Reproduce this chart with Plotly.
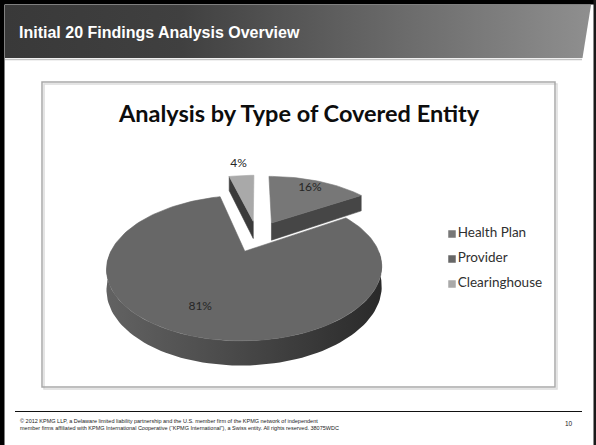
import numpy as np
import plotly.graph_objects as go

# ---- chart data ----
categories = ["Health Plan", "Provider", "Clearinghouse"]
shares = [16, 81, 4]                     # percent of findings by covered-entity type
top_colors = ["#777777", "#676767", "#a9a9a9"]
cut_colors = ["#464646", "#3a3a3a", "#3b3b3b"]
wall_scale = [[0.0, "#626262"], [0.45, "#4a4a4a"], [1.0, "#2a2a2a"]]

slide_title = "Initial 20 Findings Analysis Overview"
chart_title = "Analysis by Type of Covered Entity"
footer_lines = [
    "\u00a9 2012 KPMG LLP, a Delaware limited liability partnership and the U.S. member firm of the KPMG network of independent",
    "member firms affiliated with KPMG International Cooperative (\u201cKPMG International\u201d), a Swiss entity. All rights reserved. 38075WDC",
]
page_number = "10"

# ---- canvas (axes are mapped 1:1 onto pixels) ----
W, H = 596, 445

# ---- 3-D pie projection ----
CX, CY = 257.0, 236.0     # screen position of pie centre
RX, RY = 127.0, 62.0      # radius along x, foreshortened radius along depth
DEPTH = 18.0              # thickness of the pie
PERSP = 0.22              # perspective strength
EXPLODE = 0.25            # radial explosion of every slice (in radii)


def project(X, V, z=0.0):
    """X: right, V: toward viewer (radius units), z: 0 = top face, 1 = bottom."""
    s = 1.0 / (1.0 - PERSP * V)
    return CX + RX * X * s, CY + (RY * V + DEPTH * z) * s


def slice_pt(theta, r, off, z=0.0):
    return project(r * np.sin(theta) + off[0], -r * np.cos(theta) + off[1], z)


def arc(a0, a1, off, z=0.0, r=1.0):
    n = max(4, int(abs(a1 - a0) / np.radians(2)) + 2)
    th = np.linspace(a0, a1, n)
    xs, ys = slice_pt(th, r, off, z)
    return list(xs), list(ys)


total = float(sum(shares))
bounds = np.concatenate([[0.0], np.cumsum(shares) / total]) * 2 * np.pi

slices = []
for i, v in enumerate(shares):
    a0, a1 = bounds[i], bounds[i + 1]
    mid = 0.5 * (a0 + a1)
    off = (EXPLODE * np.sin(mid), -EXPLODE * np.cos(mid))
    slices.append(dict(i=i, a0=a0, a1=a1, mid=mid, off=off))

# paint from back to front
slices.sort(key=lambda s: -np.cos(s["mid"]))

fig = go.Figure()


def poly(xs, ys, color=None, gradient=None):
    kw = dict(x=xs + [xs[0]], y=ys + [ys[0]], mode="lines", fill="toself",
              line=dict(width=0.6, color=color if color else "rgba(0,0,0,0)"),
              hoverinfo="skip", showlegend=False)
    if gradient is not None:
        kw["fillgradient"] = dict(type="horizontal", colorscale=gradient)
        kw["line"] = dict(width=0, color="rgba(0,0,0,0)")
    else:
        kw["fillcolor"] = color
    fig.add_trace(go.Scatter(**kw))


# header band with gradient
fig.add_trace(go.Scatter(
    x=[5, 591, 582.5, 5, 5], y=[5, 5, 58, 58, 5], mode="lines", fill="toself",
    fillgradient=dict(type="horizontal",
                      colorscale=[[0, "#393939"], [0.3, "#404040"], [1, "#8f8f8f"]]),
    line=dict(width=0, color="rgba(0,0,0,0)"), hoverinfo="skip", showlegend=False))

for s in slices:
    i, a0, a1, off = s["i"], s["a0"], s["a1"], s["off"]
    ax, ay = slice_pt(0.0, 0.0, off)
    axb, ayb = slice_pt(0.0, 0.0, off, 1.0)

    # outer curved wall (front half only)
    w0, w1 = max(a0, np.pi / 2), min(a1, 3 * np.pi / 2)
    if w1 > w0:
        tx, ty = arc(w0, w1, off, 0.0)
        bx, by = arc(w1, w0, off, 1.0)
        poly(tx + bx, ty + by, gradient=wall_scale)

    # radial cut faces that face the viewer
    if np.sin(a0) < -0.02:
        ex, ey = slice_pt(a0, 1.0, off)
        exb, eyb = slice_pt(a0, 1.0, off, 1.0)
        poly([ax, ex, exb, axb], [ay, ey, eyb, ayb], color=cut_colors[i])
    if np.sin(a1) > 0.02:
        ex, ey = slice_pt(a1, 1.0, off)
        exb, eyb = slice_pt(a1, 1.0, off, 1.0)
        poly([ax, ex, exb, axb], [ay, ey, eyb, ayb], color=cut_colors[i])

    # top face
    tx, ty = arc(a0, a1, off, 0.0)
    poly([ax] + tx, [ay] + ty, color=top_colors[i])

# data labels
label_r = [0.8, 0.73, 1.32]
lx, ly, lt = [], [], []
for s in slices:
    i = s["i"]
    x, y = slice_pt(s["mid"], label_r[i], s["off"])
    lx.append(float(x)); ly.append(float(y)); lt.append(f"{shares[i]}%")
fig.add_trace(go.Scatter(x=lx, y=ly, mode="text", text=lt,
                         textfont=dict(family="Lato", size=12, color="#262626"),
                         hoverinfo="skip", showlegend=False))

# legend
LEG_X, LEG_Y, LEG_STEP = 452, 234, 25
for i, name in enumerate(categories):
    fig.add_trace(go.Scatter(
        x=[LEG_X], y=[LEG_Y + LEG_STEP * i], mode="markers+text",
        marker=dict(symbol="square", size=7.5, color=top_colors[i], line=dict(width=0)),
        text=[name], textposition="middle right",
        textfont=dict(family="Lato", size=13.5, color="#303030"),
        hoverinfo="skip", showlegend=False))

shapes = [
    # chart frame with a soft shadow
    dict(type="rect", x0=44, y0=84, x1=557, y1=389, line=dict(color="#dcdcdc", width=1.5),
         fillcolor="rgba(0,0,0,0)", layer="below"),
    dict(type="rect", x0=42, y0=82, x1=555, y1=387, line=dict(color="#a9a9a9", width=1.5),
         fillcolor="rgba(0,0,0,0)", layer="below"),
    # light rule under the header band
    dict(type="line", x0=5, x1=582, y0=59.5, y1=59.5, line=dict(color="#c4c4c4", width=1.5),
         layer="below"),
    # footer rule
    dict(type="line", x0=15, x1=582, y0=411.5, y1=411.5, line=dict(color="#111111", width=1)),
    # slide border
    dict(type="rect", x0=0, y0=0, x1=4.5, y1=H, line=dict(width=0), fillcolor="#000000"),
    dict(type="rect", x0=0, y0=0, x1=W, y1=4.5, line=dict(width=0), fillcolor="#000000"),
    dict(type="rect", x0=593.5, y0=0, x1=W, y1=H, line=dict(width=0), fillcolor="#1a1a1a"),
]

annotations = [
    dict(x=17, y=32.5, text=f"<b>{slide_title}</b>", showarrow=False, xanchor="left",
         yanchor="middle", font=dict(family="Liberation Sans", size=16, color="#ffffff")),
    dict(x=299, y=113, text=f"<b>{chart_title}</b>", showarrow=False, xanchor="center",
         yanchor="middle", font=dict(family="Lato", size=23.5, color="#0d0d0d")),
    dict(x=18, y=421, text=footer_lines[0], showarrow=False, xanchor="left", yanchor="middle",
         font=dict(family="Liberation Sans", size=5.5, color="#222222")),
    dict(x=18, y=427.5, text=footer_lines[1], showarrow=False, xanchor="left", yanchor="middle",
         font=dict(family="Liberation Sans", size=5.5, color="#222222")),
    dict(x=575, y=423, text=page_number, showarrow=False, xanchor="right", yanchor="middle",
         font=dict(family="Liberation Sans", size=6.5, color="#222222")),
]

fig.update_layout(
    width=W, height=H, autosize=False,
    margin=dict(l=0, r=0, t=0, b=0, pad=0),
    paper_bgcolor="#ffffff", plot_bgcolor="#ffffff",
    xaxis=dict(range=[0, W], visible=False, fixedrange=True),
    yaxis=dict(range=[H, 0], visible=False, fixedrange=True),
    shapes=shapes, annotations=annotations, showlegend=False,
)

fig.write_html("out.html", config={"displayModeBar": False})
